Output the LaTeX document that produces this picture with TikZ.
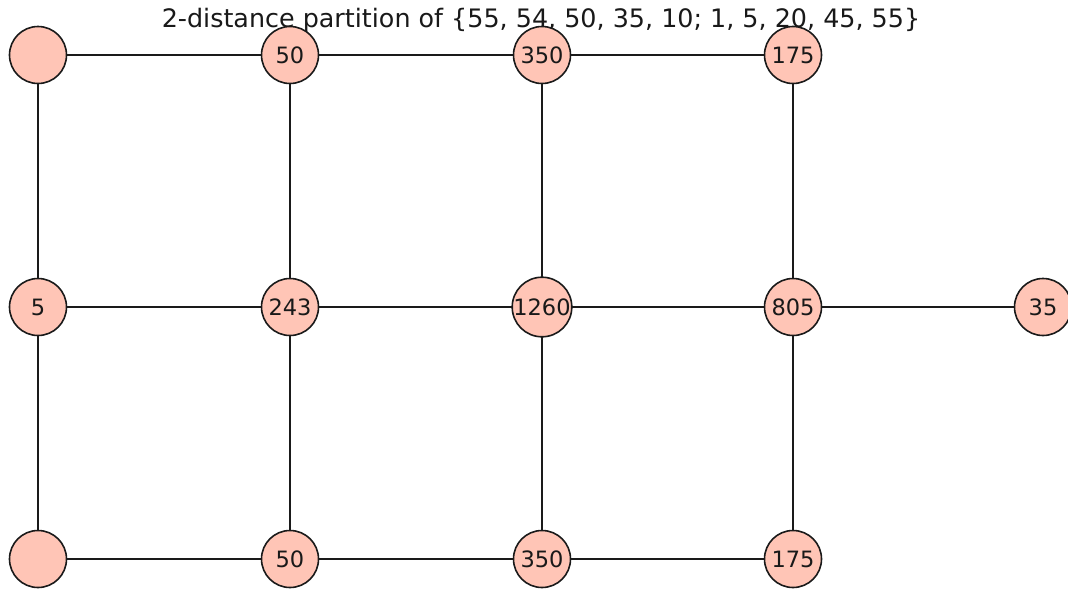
\documentclass[tikz,border=0pt]{standalone}
\usepackage{fontspec}
\setmainfont{DejaVu Sans}
\definecolor{nodefill}{HTML}{FFC5B6}
\definecolor{edgecol}{HTML}{1A1A1A}
\begin{document}
\begin{tikzpicture}[x=1pt,y=-1pt,
  vtx/.style={circle,draw=edgecol,fill=nodefill,line width=1.6pt,minimum size=57pt,inner sep=0pt,font=\fontsize{22.5}{24}\selectfont,text=black!90},
  edge/.style={draw=edgecol,line width=1.6pt}]
\useasboundingbox (0,0) rectangle (1068,590);
\node[font=\fontsize{25.4}{27}\selectfont,text=black!90] (title) at (541,20) {2-distance partition of \{55, 54, 50, 35, 10; 1, 5, 20, 45, 55\}};
\draw[edge] (38,55) -- (793,55);
\draw[edge] (38,307) -- (1043,307);
\draw[edge] (38,559) -- (793,559);
\foreach \x in {38,290,542,793} \draw[edge] (\x,55) -- (\x,559);
\node[vtx] (a1) at (38,55) {};
\node[vtx] (a2) at (290,55) {50};
\node[vtx] (a3) at (542,55) {350};
\node[vtx] (a4) at (793,55) {175};
\node[vtx] (b1) at (38,307) {5};
\node[vtx] (b2) at (290,307) {243};
\node[vtx] (b3) at (542,307) {1260};
\node[vtx] (b4) at (793,307) {805};
\node[vtx] (b5) at (1043,307) {35};
\node[vtx] (c1) at (38,559) {};
\node[vtx] (c2) at (290,559) {50};
\node[vtx] (c3) at (542,559) {350};
\node[vtx] (c4) at (793,559) {175};
\end{tikzpicture}
\end{document}
